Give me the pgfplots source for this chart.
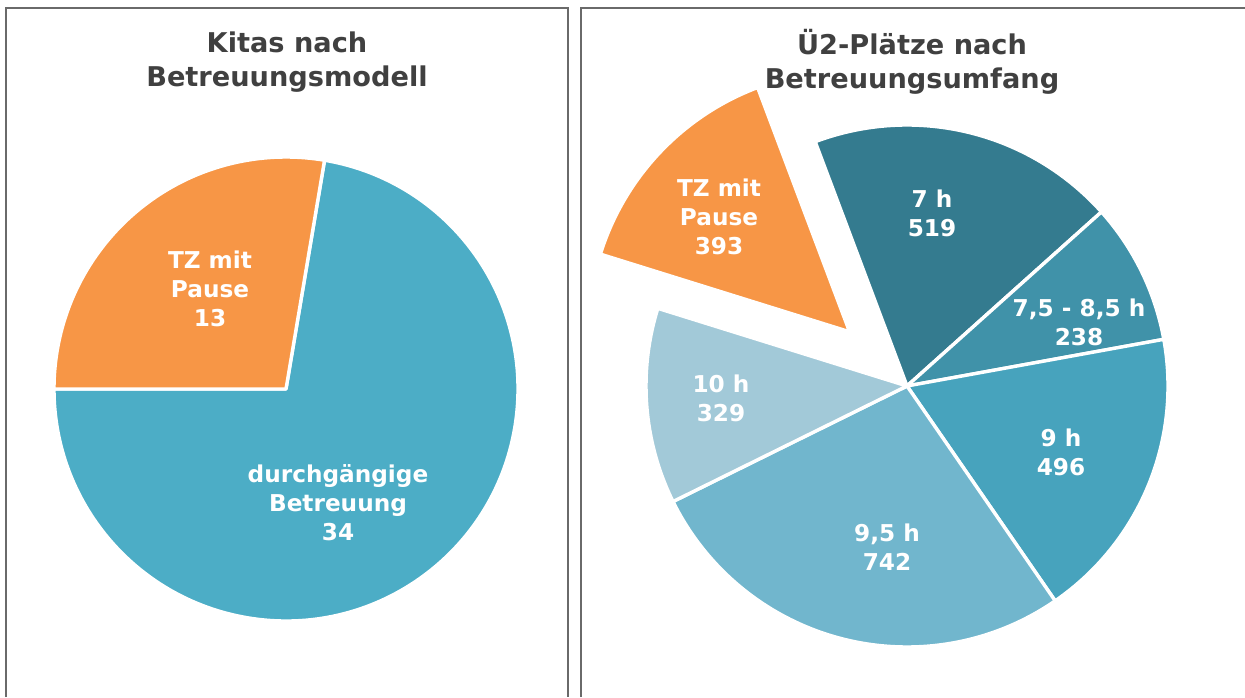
\documentclass[border=0pt]{standalone}
\usepackage{pgfplots}
\pgfplotsset{compat=1.18}
\usepackage{fontspec}
\setmainfont{DejaVu Sans}

\definecolor{orng}{HTML}{F79646}
\definecolor{aqua}{HTML}{4CADC6}
\definecolor{tealA}{HTML}{347B8F}
\definecolor{tealB}{HTML}{4092A9}
\definecolor{tealC}{HTML}{47A3BD}
\definecolor{tealD}{HTML}{71B6CD}
\definecolor{tealE}{HTML}{A2C9D8}
\definecolor{titlegray}{HTML}{404040}
\definecolor{framegray}{HTML}{6A6A6A}

% pie: centre x, centre y, radius (px), start angle, list value/colour/explode(px)
% slices run clockwise; 1 px = 0.5pt
\newcommand\drawpie[5]{%
  \xdef\pietotal{0}%
  \foreach \v/\c/\e in {#5}{\pgfmathsetmacro\pietmp{\pietotal+\v}\xdef\pietotal{\pietmp}}%
  \xdef\pieang{#4}%
  \foreach \v/\c/\e in {#5}{%
    \pgfmathsetmacro\a{\pieang}%
    \pgfmathsetmacro\b{\pieang-(\v/\pietotal)*360}%
    \pgfmathsetmacro\m{(\a+\b)/2}%
    \pgfmathsetmacro\rr{#3*0.5}%
    \pgfmathsetmacro\ee{\e*0.5}%
    \edef\temp{\noexpand\filldraw[fill=\c,draw=white,line width=1.7pt,line join=round]
      ([shift={(\m:\ee pt)}]axis cs:#1,#2) -- +(\a:\rr pt)
      arc[start angle=\a,end angle=\b,radius=\rr pt] -- cycle;}%
    \temp
    \xdef\pieang{\b}%
  }%
}

\begin{document}
\begin{tikzpicture}
\begin{axis}[
    x=0.5pt, y=0.5pt,
    xmin=0, xmax=1245, ymin=0, ymax=697,
    hide axis,
    clip=true,
  ]
  \fill[white] (axis cs:0,0) rectangle (axis cs:1245,697);

  % panel frames
  \draw[framegray, line width=1pt] (axis cs:6,0) |- (axis cs:568,689) -- (axis cs:568,0);
  \draw[framegray, line width=1pt] (axis cs:581,0) |- (axis cs:1245,689);

  % titles
  \node[titlegray, font=\bfseries\fontsize{13.6}{17}\selectfont, align=center]
    at (axis cs:287,635) {Kitas nach\\Betreuungsmodell};
  \node[titlegray, font=\bfseries\fontsize{13.6}{17}\selectfont, align=center]
    at (axis cs:912,635) {Ü2-Plätze nach\\Betreuungsumfang};

  % left pie: durchgängige Betreuung 34, TZ mit Pause 13
  \drawpie{286}{308}{232}{80.43}{34/aqua/0, 13/orng/0}

  % right pie: 7 h, 7,5-8,5 h, 9 h, 9,5 h, 10 h, TZ mit Pause (exploded)
  \drawpie{907}{311}{261}{110.6}{519/tealA/0, 238/tealB/0, 496/tealC/0, 742/tealD/0, 329/tealE/0, 393/orng/79}

  % slice labels
  \begin{scope}[every node/.style={white, font=\bfseries\fontsize{11.6}{14.5}\selectfont, align=center}]
    \node at (axis cs:210,408) {TZ mit\\Pause\\13};
    \node at (axis cs:338,194) {durchgängige\\Betreuung\\34};
    \node at (axis cs:719,480) {TZ mit\\Pause\\393};
    \node at (axis cs:932,483.5) {7 h\\519};
    \node at (axis cs:1079,374.5) {7,5 - 8,5 h\\238};
    \node at (axis cs:1061,244.5) {9 h\\496};
    \node at (axis cs:887,149.5) {9,5 h\\742};
    \node at (axis cs:721,298.5) {10 h\\329};
  \end{scope}
\end{axis}
\end{tikzpicture}
\end{document}
